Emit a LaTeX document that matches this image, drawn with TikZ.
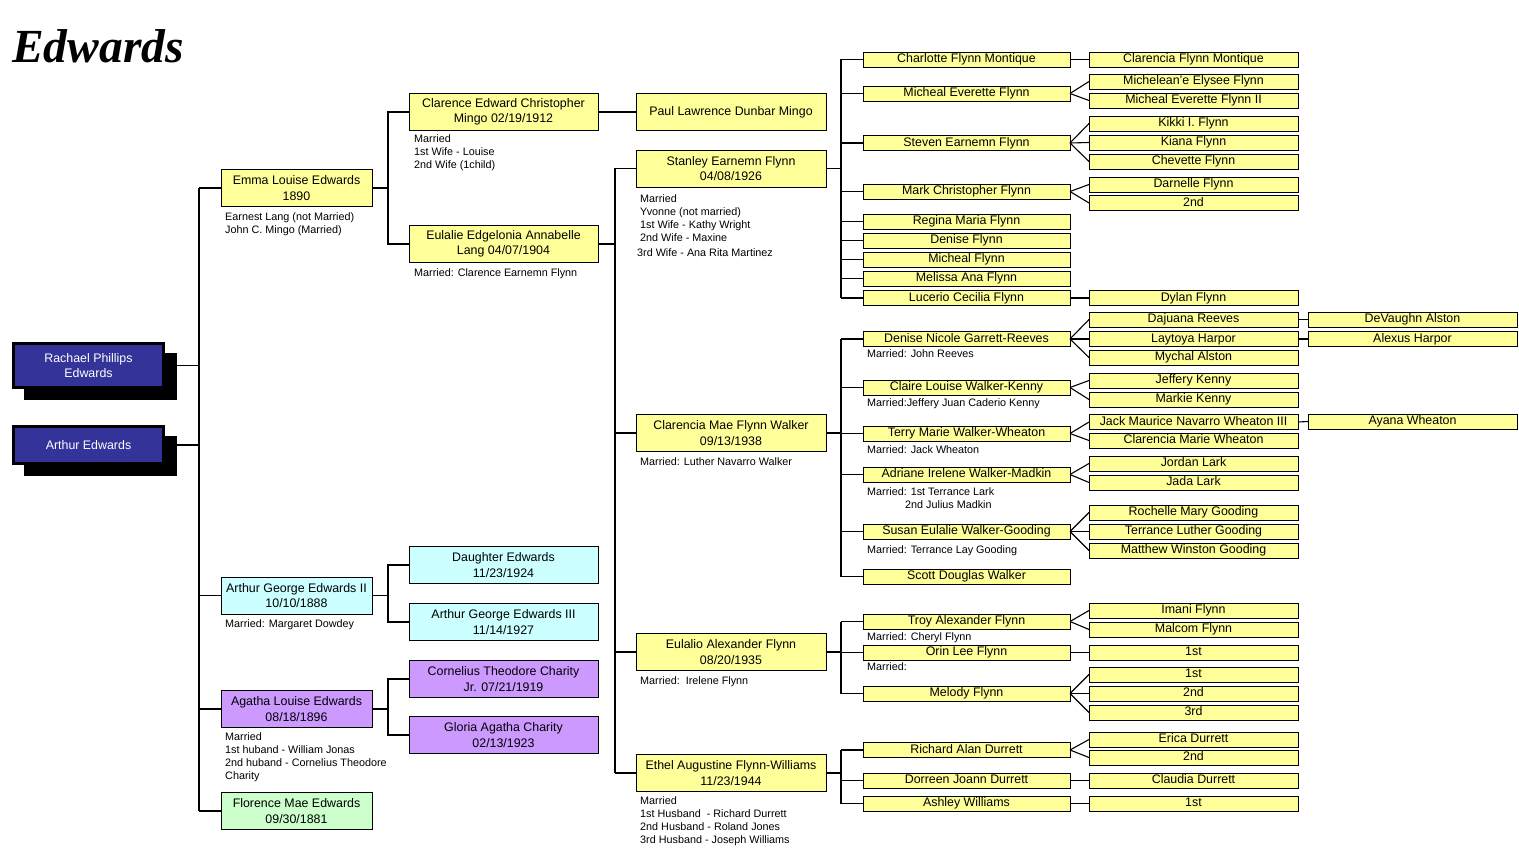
\documentclass[tikz,border=0pt]{standalone}
\usepackage{fontspec}
\setmainfont{Liberation Sans}
\newfontfamily\titlefont{Liberation Serif}
\definecolor{byellow}{RGB}{255,255,153}
\definecolor{bcyan}{RGB}{204,255,255}
\definecolor{bpurple}{RGB}{204,153,255}
\definecolor{bgreen}{RGB}{204,255,204}
\definecolor{rblue}{RGB}{51,51,153}
\begin{document}
\begin{tikzpicture}[x=1pt,y=-1pt,
  box/.style={draw=black, line width=0.8pt, inner sep=0pt, outer sep=0pt, align=center, font=\fontsize{12.4}{15.5}\selectfont},
  ybox/.style={box, fill=byellow},
  cbox/.style={box, fill=bcyan},
  pbox/.style={box, fill=bpurple},
  gbox/.style={box, fill=bgreen},
  lone/.style={minimum width=151pt, minimum height=37pt},
  ltwo/.style={minimum width=189pt, minimum height=37pt},
  lthree/.style={minimum width=190pt, minimum height=37pt},
  lfour/.style={ybox, minimum width=207pt, minimum height=15pt, text depth=2.6pt, text height=9.2pt},
  lfive/.style={ybox, minimum width=209pt, minimum height=15pt, text depth=2.6pt, text height=9.2pt},
  rootbox/.style={draw=black, line width=3pt, fill=rblue, text=white, minimum width=150pt, inner sep=0pt, align=center, font=\fontsize{12.4}{15.5}\selectfont},
  shadowbox/.style={fill=black, inner sep=0pt, minimum width=153pt},
  note/.style={anchor=north west, inner sep=0pt, align=left, font=\fontsize{10.8}{13}\selectfont},
  conn/.style={line width=1.5pt},
  fan/.style={line width=1.1pt}
]
\useasboundingbox (0,0) rectangle (1519,848);

% title
\node[anchor=base west, inner sep=0pt, font=\titlefont\bfseries\itshape\fontsize{47.5}{50}\selectfont] (title) at (12,63) {Edwards};

% buses
\coordinate (b1) at (199,0);
\coordinate (b2) at (388,0);
\coordinate (b3) at (615,0);
\coordinate (b4) at (841,0);

% roots
\node[shadowbox, minimum height=47pt] (rachaelsh) at (100.5,376.5) {};
\node[rootbox, minimum height=44pt] (rachael) at (88.5,365.5) {Rachael Phillips\\Edwards};
\node[shadowbox, minimum height=40pt] (arthursh) at (100.5,456) {};
\node[rootbox, minimum height=37pt] (arthur) at (88.5,445) {Arthur Edwards};

% level 1
\node[ybox, lone] (emma) at (296.5,188) {Emma Louise Edwards\\1890};
\node[cbox, lone] (ageII) at (296.5,595.5) {Arthur George Edwards II\\10/10/1888};
\node[pbox, lone] (agatha) at (296.5,709) {Agatha Louise Edwards\\08/18/1896};
\node[gbox, lone] (florence) at (296.5,811) {Florence Mae Edwards\\09/30/1881};

\node[note] (emmanote) at (225,212.5) {Earnest Lang (not Married)\\John C. Mingo (Married)};
\node[note] (agenote) at (225,619.5) {Married: Margaret Dowdey};
\node[note] (agathanote) at (225,732.5) {Married\\1st huband - William Jonas\\2nd huband - Cornelius Theodore\\Charity};

% level 2
\node[ybox, ltwo] (clarence) at (503.5,112) {Clarence Edward Christopher\\Mingo 02/19/1912};
\node[ybox, ltwo] (eulalie) at (503.5,244) {Eulalie Edgelonia Annabelle\\Lang 04/07/1904};
\node[cbox, ltwo] (daughter) at (503.5,565) {Daughter Edwards\\11/23/1924};
\node[cbox, ltwo] (ageIII) at (503.5,622) {Arthur George Edwards III\\11/14/1927};
\node[pbox, ltwo] (cornelius) at (503.5,679) {Cornelius Theodore Charity\\Jr. 07/21/1919};
\node[pbox, ltwo] (gloria) at (503.5,735) {Gloria Agatha Charity\\02/13/1923};

\node[note] (clarnote) at (414,134.5) {Married\\1st Wife - Louise\\2nd Wife (1child)};
\node[note] (eulnote) at (414,268.5) {Married: Clarence Earnemn Flynn};

% level 3
\node[ybox, lthree] (paul) at (731,112) {Paul Lawrence Dunbar Mingo};
\node[ybox, lthree] (stanley) at (731,168.5) {Stanley Earnemn Flynn\\04/08/1926};
\node[ybox, lthree] (clarencia) at (731,433) {Clarencia Mae Flynn Walker\\09/13/1938};
\node[ybox, lthree] (eulalio) at (731,652) {Eulalio Alexander Flynn\\08/20/1935};
\node[ybox, lthree] (ethel) at (731,773) {Ethel Augustine Flynn-Williams\\11/23/1944};

\node[note] (stannote) at (640,194.5) {Married\\Yvonne (not married)\\1st Wife - Kathy Wright\\2nd Wife - Maxine\\[2pt]\hspace*{-3pt}3rd Wife - Ana Rita Martinez};
\node[note] (clarmnote) at (640,457.5) {Married: Luther Navarro Walker};
\node[note] (eulalionote) at (640,676.5) {Married:\ \ Irelene Flynn};
\node[note] (ethelnote) at (640,796.5) {Married\\1st Husband\ \ - Richard Durrett\\2nd Husband - Roland Jones\\3rd Husband - Joseph Williams};

% level 4
\node[lfour] (charlotte) at (966.5,59.5) {Charlotte Flynn Montique};
\node[lfour] (micheal) at (966.5,93.5) {Micheal Everette Flynn};
\node[lfour] (steven) at (966.5,143) {Steven Earnemn Flynn};
\node[lfour] (mark) at (966.5,191.5) {Mark Christopher Flynn};
\node[lfour] (regina) at (966.5,221.5) {Regina Maria Flynn};
\node[lfour] (denise) at (966.5,240.5) {Denise Flynn};
\node[lfour] (michealf) at (966.5,259.5) {Micheal Flynn};
\node[lfour] (melissa) at (966.5,278.5) {Melissa Ana Flynn};
\node[lfour] (lucerio) at (966.5,298) {Lucerio Cecilia Flynn};
\node[lfour] (dnicole) at (966.5,339) {Denise Nicole Garrett-Reeves};
\node[lfour] (claire) at (966.5,387.5) {Claire Louise Walker-Kenny};
\node[lfour] (terry) at (966.5,433.5) {Terry Marie Walker-Wheaton};
\node[lfour] (adriane) at (966.5,474.5) {Adriane Irelene Walker-Madkin};
\node[lfour] (susan) at (966.5,531.5) {Susan Eulalie Walker-Gooding};
\node[lfour] (scott) at (966.5,576.5) {Scott Douglas Walker};
\node[lfour] (troy) at (966.5,621.5) {Troy Alexander Flynn};
\node[lfour] (orin) at (966.5,652.5) {Orin Lee Flynn};
\node[lfour] (melody) at (966.5,693.5) {Melody Flynn};
\node[lfour] (richard) at (966.5,750) {Richard Alan Durrett};
\node[lfour] (dorreen) at (966.5,780.5) {Dorreen Joann Durrett};
\node[lfour] (ashley) at (966.5,803.5) {Ashley Williams};

\node[note] (dnicolenote) at (867,349.5) {Married: John Reeves};
\node[note] (clairenote) at (867,398) {Married:Jeffery Juan Caderio Kenny};
\node[note] (terrynote) at (867,445.5) {Married: Jack Wheaton};
\node[note] (adrianenote) at (867,487) {Married: 1st Terrance Lark\\\hspace*{38pt}2nd Julius Madkin};
\node[note] (susannote) at (867,545.5) {Married: Terrance Lay Gooding};
\node[note] (troynote) at (867,632.5) {Married: Cheryl Flynn};
\node[note] (orinnote) at (867,662.5) {Married:};

% level 5
\node[lfive] (clarenciafm) at (1193.5,59.5) {Clarencia Flynn Montique};
\node[lfive] (michelean) at (1193.5,81.5) {Michelean'e Elysee Flynn};
\node[lfive] (michealII) at (1193.5,100.5) {Micheal Everette Flynn II};
\node[lfive] (kikki) at (1193.5,123.5) {Kikki I. Flynn};
\node[lfive] (kiana) at (1193.5,142.5) {Kiana Flynn};
\node[lfive] (chevette) at (1193.5,161.5) {Chevette Flynn};
\node[lfive] (darnelle) at (1193.5,184.5) {Darnelle Flynn};
\node[lfive] (marktwo) at (1193.5,203) {2nd};
\node[lfive] (dylan) at (1193.5,298) {Dylan Flynn};
\node[lfive] (dajuana) at (1193.5,319.5) {Dajuana Reeves};
\node[lfive] (laytoya) at (1193.5,339) {Laytoya Harpor};
\node[lfive] (mychal) at (1193.5,357.5) {Mychal Alston};
\node[lfive] (jeffery) at (1193.5,380.5) {Jeffery Kenny};
\node[lfive] (markie) at (1193.5,399.5) {Markie Kenny};
\node[lfive] (jack) at (1193.5,422) {Jack Maurice Navarro Wheaton III};
\node[lfive] (clarmw) at (1193.5,440.5) {Clarencia Marie Wheaton};
\node[lfive] (jordan) at (1193.5,463.5) {Jordan Lark};
\node[lfive] (jada) at (1193.5,482.5) {Jada Lark};
\node[lfive] (rochelle) at (1193.5,512.5) {Rochelle Mary Gooding};
\node[lfive] (terrance) at (1193.5,531.5) {Terrance Luther Gooding};
\node[lfive] (matthew) at (1193.5,550.5) {Matthew Winston Gooding};
\node[lfive] (imani) at (1193.5,610.5) {Imani Flynn};
\node[lfive] (malcom) at (1193.5,629.5) {Malcom Flynn};
\node[lfive] (orinone) at (1193.5,652.5) {1st};
\node[lfive] (melone) at (1193.5,674.5) {1st};
\node[lfive] (meltwo) at (1193.5,693.5) {2nd};
\node[lfive] (melthree) at (1193.5,712.5) {3rd};
\node[lfive] (erica) at (1193.5,739.5) {Erica Durrett};
\node[lfive] (richtwo) at (1193.5,757.5) {2nd};
\node[lfive] (claudia) at (1193.5,780.5) {Claudia Durrett};
\node[lfive] (ashone) at (1193.5,803.5) {1st};

% level 6
\node[lfive] (devaughn) at (1412.5,319.5) {DeVaughn Alston};
\node[lfive] (alexus) at (1412.5,339) {Alexus Harpor};
\node[lfive] (ayana) at (1412.5,421.5) {Ayana Wheaton};

% ---- connectors ----
% roots to trunk
\draw[conn] (rachael.center -| rachaelsh.east) -- (rachael.center -| b1);
\draw[conn] (arthur.center -| arthursh.east) -- (arthur.center -| b1);
\draw[conn] (emma.west -| b1) -- (florence.west -| b1);
\foreach \n in {emma,ageII,agatha,florence} \draw[conn] (\n.west -| b1) -- (\n.west);

% level 1 -> level 2
\draw[conn] (emma.east) -- (emma.east -| b2);
\draw[conn] (clarence.west) -- (clarence.west -| b2) -- (eulalie.west -| b2) -- (eulalie.west);
\draw[conn] (ageII.east) -- (ageII.east -| b2);
\draw[conn] (daughter.west) -- (daughter.west -| b2) -- (ageIII.west -| b2) -- (ageIII.west);
\draw[conn] (agatha.east) -- (agatha.east -| b2);
\draw[conn] (cornelius.west) -- (cornelius.west -| b2) -- (gloria.west -| b2) -- (gloria.west);

% level 2 -> level 3
\draw[conn] (clarence.east) -- (clarence.east -| paul.west);
\draw[conn] (eulalie.east) -- (eulalie.east -| b3);
\draw[conn] (stanley.west -| b3) -- (ethel.west -| b3);
\foreach \n in {stanley,clarencia,eulalio,ethel} \draw[conn] (\n.west -| b3) -- (\n.west);

% level 3 -> level 4
\foreach \p/\a/\z/\list in {stanley/charlotte/lucerio/{charlotte,micheal,steven,mark,regina,denise,michealf,melissa,lucerio},
  clarencia/dnicole/scott/{dnicole,claire,terry,adriane,susan,scott},
  eulalio/troy/melody/{troy,orin,melody},
  ethel/richard/ashley/{richard,dorreen,ashley}}{
  \draw[conn] (\p.east) -- (\p.east -| b4);
  \draw[conn] (\a.west -| b4) -- (\z.west -| b4);
  \foreach \n in \list \draw[conn] (\n.west -| b4) -- (\n.west);
}

% level 4 -> level 5 (fans)
\foreach \p/\c in {charlotte/clarenciafm, micheal/michelean, micheal/michealII,
  steven/kikki, steven/kiana, steven/chevette, mark/darnelle, mark/marktwo,
  lucerio/dylan, dnicole/dajuana, dnicole/laytoya, dnicole/mychal,
  claire/jeffery, claire/markie, terry/jack, terry/clarmw,
  adriane/jordan, adriane/jada, susan/rochelle, susan/terrance, susan/matthew,
  troy/imani, troy/malcom, orin/orinone, melody/melone, melody/meltwo, melody/melthree,
  richard/erica, richard/richtwo, dorreen/claudia, ashley/ashone}
  \draw[fan] (\p.east) -- (\c.west);

% level 5 -> level 6
\foreach \p/\c in {dajuana/devaughn, laytoya/alexus, jack/ayana}
  \draw[fan] (\p.east) -- (\c.west);
\end{tikzpicture}
\end{document}
